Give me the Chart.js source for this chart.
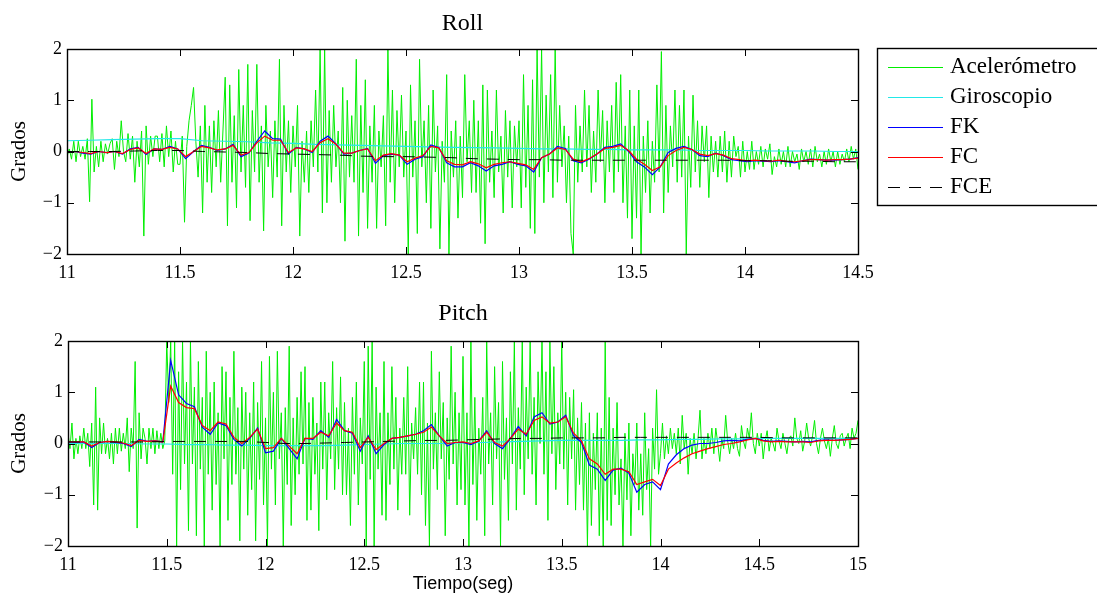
<!DOCTYPE html>
<html>
<head>
<meta charset="utf-8">
<script src="https://cdn.jsdelivr.net/npm/chart.js@4.4.1/dist/chart.umd.min.js"></script>
<style>
    body { margin: 0; background: #fff; }
    #wrap { position: relative; width: 1097px; height: 598px; overflow: hidden; }
    canvas { position: absolute; left: 0; }
    #roll { top: 0; }
    #pitch { top: 290px; }
</style>
</head>
<body>
<div id="wrap">
    <canvas id="roll" width="1097" height="290"></canvas>
    <canvas id="pitch" width="1097" height="308"></canvas>
</div>
<script>
// series labels (legend order) and colours
const seriesNames = ["Acelerómetro", "Giroscopio", "FK", "FC", "FCE"];
const seriesColors = ["#00ee00", "#22e8e8", "#0000ff", "#ff0000", "#000000"];

// sample steps (s)
const accStep = 0.01, slowStep = 0.1;

// Roll: 11 .. 14.5 s
const rollStart = 11, rollEnd = 14.5;
const rollFiltStep = 0.035;

const rollAcc = [
    -0.1, 0.05, -0.15, 0.2, -0.2, 0.2, -0.1, 0.1, -0.15, 0.25,
    -0.98, 1.02, -0.4, 0.1, -0.3, 0.2, -0.2, 0.15, -0.05, 0.15,
    0.25, -0.35, 0.2, -0.1, 0.6, 0.0, -0.2, 0.35, -0.15, 0.3,
    -0.6, 0.2, -0.3, 0.4, -1.65, 0.5, -0.25, 0.3, -0.1, 0.3,
    0.3, -0.2, 0.35, -0.3, 0.5, -0.1, 0.4, -0.4, 0.2, -0.25,
    -0.25, 0.3, -1.38, 0.1, 0.6, 0.9, 1.25, 0.2, -0.5, 0.5,
    -1.2, 0.9, -0.6, 0.5, -0.8, 0.6, -0.3, 0.8, -0.6, 0.4,
    1.45, -1.45, 1.3, -0.6, 0.7, -1.1, 1.6, -0.4, 0.9, -0.7,
    1.7, -1.35, 0.8, -0.4, 1.7, -0.6, 0.5, -1.55, 0.9, -0.3,
    0.4, -0.9, 0.6, -0.5, 1.8, -1.45, 0.9, -0.4, 0.6, -0.8,
    0.5, -0.3, 0.9, -1.65, 0.2, -0.6, 0.4, -0.8, 0.6, -0.3,
    1.2, -0.4, 2.0, -1.2, 2.0, -1.0, 0.8, -0.6, 0.9, -0.3,
    0.4, -1.0, 1.25, -1.75, 1.0, -0.5, 0.7, -0.6, 1.8, -1.65,
    0.9, -0.8, 1.4, -1.5, 0.5, -0.6, 0.9, -1.5, 0.4, -0.3,
    0.7, -1.45, 2.0, -0.6, 1.2, -1.0, 0.8, -0.3, 1.1, -0.5,
    0.4, -2.0, 1.3, -0.5, 0.6, -1.6, 1.8, -0.3, 0.6, -1.0,
    0.9, -1.5, 1.2, -0.4, 0.5, -1.9, 0.2, -0.6, 1.5, -2.0,
    0.4, -0.5, 0.6, -1.3, 0.3, -0.9, 1.5, -0.2, 0.6, -0.8,
    1.0, -0.8, 0.6, -1.4, 1.3, -1.8, 1.2, -0.6, 0.4, -0.9,
    1.2, -0.4, 0.3, -1.2, 0.8, -0.5, 0.6, -1.1, 0.5, -0.3,
    0.6, -1.1, 1.5, -0.7, 0.9, -1.5, 1.4, -1.6, 2.0, -0.5,
    2.0, -1.0, 1.1, -0.4, 1.5, -0.9, 2.0, -0.6, 0.9, -0.3,
    0.5, -1.0, 0.3, -1.6, -2.0, 0.9, -0.6, 0.5, -0.4, 1.2,
    -0.3, 0.9, -0.8, 0.4, -0.6, 1.2, -0.2, 0.8, -1.0, 0.6,
    -0.4, 0.9, -0.8, 1.35, -0.4, 1.5, -1.0, 0.5, -1.3, 1.2,
    -1.7, 0.5, -1.3, 1.2, -2.0, 0.3, -0.8, 0.6, -1.2, 0.2,
    -0.6, 1.3, -0.4, 1.95, -1.2, 0.9, -0.8, 0.5, -0.3, 1.2,
    -0.6, 0.9, -0.5, 1.2, -2.0, 0.3, -0.7, 1.1, -0.4, 0.6,
    -0.7, 0.5, -0.2, 0.5, -0.9, 0.3, -0.4, 0.2, -0.5, 0.3,
    -0.4, 0.4, -0.6, 0.2, -0.5, 0.3, -0.1, 0.1, -0.5, 0.2,
    -0.4, 0.0, -0.35, 0.2, -0.35, 0.0, -0.25, 0.1, -0.3, 0.05,
    -0.15, 0.15, -0.45, -0.1, -0.3, 0.05, -0.25, 0.0, -0.3, 0.1,
    -0.3, 0.0, -0.2, -0.05, -0.35, 0.05, -0.2, 0.0, -0.25, 0.05,
    -0.3, 0.1, -0.2, -0.05, -0.3, 0.0, -0.25, 0.05, -0.2, 0.0,
    -0.3, 0.0, -0.25, -0.05, -0.2, 0.05, -0.2, 0.1, -0.15, 0.05,
    -0.35
];
const rollGyro = [
    0.21, 0.22, 0.23, 0.24, 0.25, 0.25, 0.21, 0.2, 0.19, 0.17,
    0.16, 0.14, 0.13, 0.12, 0.11, 0.1, 0.09, 0.08, 0.075, 0.07,
    0.06, 0.05, 0.05, 0.04, 0.04, 0.03, 0.03, 0.03, 0.02, 0.02,
    0.02, 0.01, 0.01, 0.01, 0.0, 0.0
];
const rollFK = [
    -0.02, 0.0, -0.03, -0.05, 0.0, -0.02, 0.0, -0.05, 0.05, 0.08,
    -0.06, 0.05, 0.04, 0.1, 0.05, -0.14, 0.0, 0.12, 0.08, 0.02,
    0.05, 0.14, -0.1, -0.03, 0.2, 0.4, 0.25, 0.24, -0.05, 0.08,
    0.05, -0.02, 0.2, 0.3, 0.15, -0.05, -0.03, 0.02, 0.06, -0.23,
    -0.08, -0.05, -0.07, -0.25, -0.15, -0.1, 0.13, 0.08, -0.22, -0.3,
    -0.3, -0.22, -0.28, -0.38, -0.28, -0.25, -0.2, -0.25, -0.28, -0.4,
    -0.12, -0.05, 0.1, 0.06, -0.18, -0.22, -0.15, -0.05, 0.08, 0.1,
    0.15, 0.0, -0.2, -0.3, -0.45, -0.3, -0.02, 0.06, 0.1, 0.04,
    -0.08, -0.1, -0.03, -0.08, -0.16, -0.18, -0.2, -0.18, -0.19, -0.2,
    -0.18, -0.2, -0.22, -0.18, -0.15, -0.16, -0.17, -0.17, -0.16, -0.15,
    -0.12
];
const rollFC = [
    -0.02, 0.0, -0.02, -0.04, 0.0, -0.02, 0.0, -0.04, 0.04, 0.07,
    -0.04, 0.05, 0.04, 0.08, 0.05, -0.1, 0.0, 0.1, 0.07, 0.03,
    0.05, 0.12, -0.07, -0.02, 0.17, 0.3, 0.22, 0.22, -0.02, 0.07,
    0.05, 0.0, 0.17, 0.25, 0.14, -0.03, -0.03, 0.02, 0.05, -0.18,
    -0.07, -0.04, -0.07, -0.2, -0.13, -0.08, 0.1, 0.07, -0.18, -0.25,
    -0.26, -0.2, -0.24, -0.32, -0.25, -0.22, -0.2, -0.23, -0.26, -0.35,
    -0.12, -0.05, 0.07, 0.04, -0.15, -0.2, -0.14, -0.05, 0.06, 0.08,
    0.12, 0.02, -0.15, -0.25, -0.37, -0.3, -0.08, 0.02, 0.08, 0.04,
    -0.05, -0.08, -0.04, -0.07, -0.14, -0.16, -0.18, -0.17, -0.18, -0.19,
    -0.17, -0.19, -0.2, -0.18, -0.16, -0.16, -0.17, -0.16, -0.16, -0.15,
    -0.13
];
const rollFCE = [
    0.0, 0.0, 0.0, 0.01, 0.02, 0.02, 0.0, -0.01, -0.02, -0.04,
    -0.05, -0.06, -0.07, -0.09, -0.1, -0.1, -0.11, -0.12, -0.14, -0.15,
    -0.16, -0.16, -0.17, -0.17, -0.17, -0.17, -0.17, -0.17, -0.17, -0.17,
    -0.18, -0.18, -0.19, -0.19, -0.2, -0.2
];

// Pitch: 11 .. 15 s
const pitchStart = 11, pitchEnd = 15;
const pitchFiltStep = 0.04;

const pitchAcc = [
    0.2, -0.1, 0.4, -0.3, 0.1, -0.2, 0.15, -0.1, 0.3, -0.1,
    0.2, -0.45, 0.4, -1.2, 1.1, -1.3, 0.5, -0.2, 0.4, -0.2,
    0.1, -0.3, 0.2, -0.4, 0.3, -0.2, 0.3, -0.15, 0.2, -0.1,
    0.5, -0.55, 0.3, -0.1, 1.6, -1.65, 0.6, -0.3, 0.3, 0.1,
    -0.4, 0.3, -0.1, 0.3, -0.2, 0.25, -0.1, 0.2, -0.1, 0.05,
    2.0, 0.8, 2.0, -0.6, 2.0, -2.0, 1.4, -0.9, 2.0, -0.4,
    1.2, -1.7, 2.0, -0.4, 1.1, -1.8, 1.6, -0.5, 0.9, -2.0,
    1.8, -0.6, 1.0, -1.3, 1.2, -0.8, 0.6, -2.0, 1.5, -0.3,
    1.4, -1.5, 0.9, -0.8, 1.8, -0.6, 0.7, -1.9, 1.1, -0.5,
    1.0, -1.4, 0.6, -0.9, 1.2, -1.9, 0.8, -0.7, 1.6, -1.2,
    0.5, -2.0, 1.7, -0.5, 1.0, -1.2, 1.8, -0.3, 0.6, -2.0,
    0.7, -0.8, 1.9, -1.6, 0.5, -1.0, 0.9, -0.6, 1.4, -0.4,
    1.5, -1.5, 0.8, -1.3, 0.9, -0.6, 0.4, -1.7, 1.2, -0.5,
    1.2, -1.1, 0.6, -0.3, 1.6, -0.9, 0.7, -0.5, 1.3, -1.0,
    0.8, -1.0, 0.3, -1.6, 0.9, -0.6, 1.2, -1.2, 0.5, -0.4,
    1.6, -2.0, 1.9, -0.7, 2.0, -2.0, 1.1, -0.5, 0.6, -1.4,
    1.6, -1.5, 0.6, -0.8, 1.5, -0.5, 0.9, -1.3, 0.3, -0.6,
    0.9, -0.6, 1.5, -1.4, 0.4, -0.3, 0.7, -0.6, 1.2, -1.0,
    1.2, -1.6, 0.4, -2.0, 1.8, -0.5, 0.6, -0.9, 1.4, -0.3,
    0.8, -1.8, 0.5, -0.7, 1.9, -0.4, 1.0, -1.2, 0.6, -0.9,
    1.7, -1.2, 0.6, -2.0, 2.0, -0.8, 0.9, -1.5, 0.3, -0.6,
    0.9, -1.8, 2.0, -0.4, 0.6, -1.2, 1.5, -0.3, 0.8, -2.0,
    1.6, -0.7, 0.5, -1.5, 1.4, -0.4, 2.0, -1.3, 0.7, -0.5,
    2.0, -1.0, 1.1, -0.3, 2.0, -0.6, 0.9, -1.2, 1.4, 0.0,
    2.0, -0.6, 1.4, -1.5, 2.0, -0.2, 1.5, -0.9, 0.6, -0.4,
    2.0, -0.5, 1.0, -1.2, 0.9, -0.3, 1.05, -1.3, 0.5, -0.8,
    0.8, -1.3, 0.4, -2.0, 0.6, -1.6, 0.2, -0.9, 0.6, -1.8,
    0.3, -2.0, 2.0, -1.5, 0.9, -1.6, 0.3, -1.0, 0.8, -1.2,
    -0.3, -2.0, 0.2, -1.1, 0.4, -1.8, -0.2, -0.8, 0.4, -1.3,
    -0.2, -1.4, 0.6, -0.9, -0.1, -2.0, 0.3, -0.5, 1.05, -0.6,
    -0.2, 0.4, -0.3, 0.15, -0.2, 0.3, -0.1, 0.2, -0.2, 0.3,
    -0.4, 0.55, -0.1, 0.2, -0.6, 0.1, -0.2, 0.2, -0.3, 0.1,
    0.65, -0.3, 0.1, -0.2, 0.2, -0.1, 0.3, -0.2, 0.3, 0.0,
    -0.35, 0.1, -0.1, 0.55, 0.05, -0.2, 0.1, -0.1, 0.2, -0.1,
    -0.25, 0.35, 0.05, -0.1, 0.3, 0.1, 0.6, 0.0, -0.2, 0.2,
    -0.05, 0.2, -0.3, 0.05, 0.25, -0.15, 0.1, 0.0, -0.15, 0.3,
    0.05, -0.1, 0.2, 0.0, -0.2, 0.1, 0.15, -0.05, 0.5, 0.1,
    0.0, 0.25, -0.15, 0.05, 0.4, 0.1, -0.05, 0.15, 0.45, 0.0,
    -0.2, 0.1, 0.3, 0.05, -0.1, 0.1, -0.25, 0.1, 0.35, 0.0,
    -0.1, 0.15, 0.2, -0.05, 0.1, 0.2, -0.1, 0.3, 0.1, 0.2,
    0.45
];
const pitchGyro = [
    0.0, 0.0, 0.0, 0.0, -0.01, -0.01,
    -0.02, -0.02, -0.03, -0.03, -0.04,
    -0.04, -0.04, -0.04, -0.03, -0.02,
    -0.01, 0.0, 0.0, 0.0, 0.01,
    0.02, 0.03, 0.04, 0.05, 0.06,
    0.06, 0.06, 0.06, 0.07, 0.07,
    0.08, 0.08, 0.09, 0.09, 0.1,
    0.1, 0.1, 0.1, 0.1, 0.1
];
const pitchFK = [
    0.03, 0.02, 0.03, -0.08, 0.02, 0.04, 0.02, 0.0, -0.06, 0.08,
    0.04, 0.05, 0.03, 1.62, 0.95, 0.78, 0.72, 0.32, 0.18, 0.4,
    0.35, 0.08, -0.05, 0.1, 0.3, -0.18, -0.15, 0.1, -0.1, -0.3,
    0.1, 0.08, 0.25, 0.12, 0.47, 0.25, 0.2, -0.15, 0.15, -0.2,
    -0.02, 0.1, 0.12, 0.15, 0.18, 0.25, 0.37, 0.15, -0.05, 0.02,
    0.02, -0.02, 0.05, 0.25, 0.0, -0.1, 0.1, 0.33, 0.15, 0.52,
    0.6, 0.38, 0.42, 0.55, 0.15, 0.02, -0.42, -0.5, -0.72, -0.52,
    -0.48, -0.58, -0.95, -0.8, -0.75, -0.9, -0.4, -0.22, -0.1, -0.03,
    0.0, 0.0, 0.02, 0.05, 0.06, 0.05, 0.08, 0.1, 0.06, 0.04,
    0.05, 0.04, 0.03, 0.04, 0.03, 0.06, 0.07, 0.06, 0.07, 0.08,
    0.1
];
const pitchFC = [
    0.03, 0.03, 0.03, -0.05, 0.02, 0.04, 0.03, 0.01, -0.04, 0.06,
    0.04, 0.05, 0.03, 1.12, 0.8, 0.7, 0.68, 0.35, 0.25, 0.42,
    0.38, 0.12, 0.0, 0.12, 0.28, -0.1, -0.08, 0.1, -0.05, -0.2,
    0.1, 0.1, 0.22, 0.15, 0.4, 0.25, 0.22, -0.08, 0.12, -0.12,
    0.0, 0.1, 0.12, 0.15, 0.18, 0.22, 0.32, 0.15, 0.0, 0.02,
    0.03, 0.0, 0.05, 0.22, 0.02, -0.05, 0.1, 0.28, 0.18, 0.45,
    0.52, 0.4, 0.42, 0.52, 0.2, 0.05, -0.3, -0.4, -0.6, -0.5,
    -0.5, -0.55, -0.8, -0.75, -0.7, -0.82, -0.5, -0.38, -0.28, -0.2,
    -0.15, -0.1, -0.06, -0.02, 0.0, 0.03, 0.07, 0.1, 0.05, 0.03,
    0.04, 0.03, 0.03, 0.03, 0.02, 0.05, 0.06, 0.06, 0.07, 0.08,
    0.1
];
const pitchFCE = [
    0.03, 0.03, 0.03, 0.03, 0.03, 0.04, 0.04, 0.04, 0.04, 0.04,
    0.02, 0.0, 0.0, 0.01, 0.02, 0.03, 0.04, 0.05, 0.06, 0.06,
    0.07, 0.08, 0.09, 0.1, 0.1, 0.11, 0.11, 0.11, 0.12, 0.12,
    0.12, 0.12, 0.12, 0.12, 0.12, 0.12, 0.11, 0.11, 0.11, 0.11,
    0.11
];

const yTicksStep = 1, xTicksStep = 0.5;
const fceDash = [12, 9];

const serif = '"Liberation Serif", "Times New Roman", serif';
const sans = '"Liberation Sans", Arial, sans-serif';

function toPoints(values, t0, step) {
    return values.map((v, i) => ({ x: +(t0 + i * step).toFixed(4), y: v }));
}

function buildDatasets(acc, gyro, fk, fc, fce, t0, filtStep) {
    return [
        { label: seriesNames[0], data: toPoints(acc, t0, accStep), borderColor: seriesColors[0], borderWidth: 1, order: 5 },
        { label: seriesNames[1], data: toPoints(gyro, t0, slowStep), borderColor: seriesColors[1], borderWidth: 1.2, order: 4 },
        { label: seriesNames[2], data: toPoints(fk, t0, filtStep), borderColor: seriesColors[2], borderWidth: 1.2, order: 3 },
        { label: seriesNames[3], data: toPoints(fc, t0, filtStep), borderColor: seriesColors[3], borderWidth: 1.2, order: 2 },
        { label: seriesNames[4], data: toPoints(fce, t0, slowStep), borderColor: seriesColors[4], borderWidth: 1, borderDash: fceDash, order: 1 }
    ];
}

// box around the plot area with inward tick marks on all four sides
const frameTicks = {
    id: "frameTicks",
    afterDraw(chart) {
        let { ctx, chartArea: a, scales } = chart;
        let len = 7;
        ctx.save();
        ctx.strokeStyle = "#000";
        ctx.lineWidth = 1;
        ctx.beginPath();
        scales.x.ticks.forEach(t => {
            let px = Math.round(scales.x.getPixelForValue(t.value)) + 0.5;
            ctx.moveTo(px, a.bottom); ctx.lineTo(px, a.bottom - len);
            ctx.moveTo(px, a.top); ctx.lineTo(px, a.top + len);
        });
        scales.y.ticks.forEach(t => {
            let py = Math.round(scales.y.getPixelForValue(t.value)) + 0.5;
            ctx.moveTo(a.left, py); ctx.lineTo(a.left + len, py);
            ctx.moveTo(a.right, py); ctx.lineTo(a.right - len, py);
        });
        ctx.stroke();
        ctx.lineWidth = 1.4;
        ctx.strokeRect(Math.round(a.left) + 0.5, Math.round(a.top) + 0.5, Math.round(a.width), Math.round(a.height));
        ctx.restore();
    }
};

// MATLAB-like legend box to the right of the Roll plot
const boxLegend = {
    id: "boxLegend",
    afterDraw(chart) {
        let ctx = chart.ctx;
        ctx.save();
        ctx.strokeStyle = "#000";
        ctx.lineWidth = 1.4;
        ctx.strokeRect(877.5, 48.5, 240, 157);
        seriesNames.forEach((name, i) => {
            let y = 67 + i * 30;
            ctx.strokeStyle = seriesColors[i];
            ctx.lineWidth = 1.2;
            ctx.setLineDash(i == 4 ? fceDash : []);
            ctx.beginPath();
            ctx.moveTo(888, y + 0.5);
            ctx.lineTo(943, y + 0.5);
            ctx.stroke();
            ctx.setLineDash([]);
            ctx.fillStyle = "#000";
            ctx.font = "23px " + serif;
            ctx.textBaseline = "middle";
            ctx.fillText(name, 950, y);
        });
        ctx.restore();
    }
};

function makeOptions(title, titlePad, xMax, plotLeft, xAxisHeight, xTitle) {
    return {
        responsive: false,
        animation: false,
        devicePixelRatio: 1,
        layout: { padding: { left: 0, right: 239, top: 0, bottom: 0 } },
        elements: { point: { radius: 0 }, line: { tension: 0 } },
        plugins: {
            legend: { display: false },
            tooltip: { enabled: false },
            title: {
                display: true,
                fullSize: false,
                text: title,
                color: "#000",
                font: { family: serif, size: 24, weight: "normal" },
                padding: titlePad
            }
        },
        scales: {
            x: {
                type: "linear",
                min: 11,
                max: xMax,
                grid: { display: false, drawTicks: false },
                border: { display: false },
                ticks: {
                    stepSize: xTicksStep, padding: 8, color: "#000", maxRotation: 0, autoSkip: false,
                    font: { family: serif, size: 18 },
                    callback: v => String(Number(v.toFixed(1)))
                },
                title: xTitle ? {
                    display: true,
                    text: xTitle,
                    color: "#000",
                    font: { family: sans, size: 18 },
                    padding: { top: 0, bottom: 3.5 }
                } : { display: false },
                afterFit: s => { s.height = xAxisHeight; }
            },
            y: {
                min: -2,
                max: 2,
                grid: { display: false, drawTicks: false },
                border: { display: false },
                ticks: {
                    stepSize: yTicksStep, padding: 5, color: "#000", font: { family: serif, size: 18 },
                    callback: v => String(v).replace("-", "\u2212")
                },
                title: { display: true, text: "Grados", color: "#000", font: { family: serif, size: 21 }, padding: { top: 7, bottom: 0 } },
                afterFit: s => { s.width = plotLeft; }
            }
        }
    };
}

new Chart(document.getElementById("roll"), {
    type: "line",
    data: { datasets: buildDatasets(rollAcc, rollGyro, rollFK, rollFC, rollFCE, rollStart, rollFiltStep) },
    options: makeOptions("Roll", { top: 9.1, bottom: 11.1 }, rollEnd, 67, 36, null),
    plugins: [frameTicks, boxLegend]
});

new Chart(document.getElementById("pitch"), {
    type: "line",
    data: { datasets: buildDatasets(pitchAcc, pitchGyro, pitchFK, pitchFC, pitchFCE, pitchStart, pitchFiltStep) },
    options: makeOptions("Pitch", { top: 9.6, bottom: 12.6 }, pitchEnd, 68, 52, "Tiempo(seg)"),
    plugins: [frameTicks]
});
</script>
</body>
</html>
